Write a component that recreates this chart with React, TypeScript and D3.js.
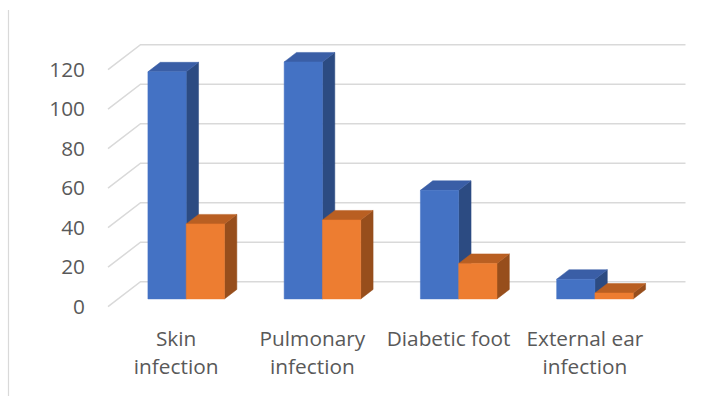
import React from "react";
import * as d3 from "d3";

const categories = [["Skin", "infection"], ["Pulmonary", "infection"], ["Diabetic foot"], ["External ear", "infection"]];
const categoryKeys = ["Skin infection", "Pulmonary infection", "Diabetic foot", "External ear infection"];
const seriesNames = ["Series 1", "Series 2"];
const series1 = [115, 120, 55, 10];
const series2 = [38, 40, 18, 3];
const yTicks = [0, 20, 40, 60, 80, 100, 120];

const W = 728;
const H = 396;
const Y0 = 306.7;
const DX = 32.5;
const DY = 25;
const Z0 = 0.31;
const Z1 = 0.69;

const colors = [
  { front: "#4472C4", top: "#3A5EA6", side: "#2C4B82" },
  { front: "#ED7D31", top: "#B95F22", side: "#974E1C" },
];

export default function App() {
  const yScale = d3.scaleLinear().domain([0, 120]).range([0, 237]);
  const x = d3.scaleBand<string>().domain(categoryKeys).range([108, 653]).paddingInner(0.438).paddingOuter(0.219);
  const xFull = d3.scaleBand<string>().domain(categoryKeys).range([108, 653]).padding(0);
  const xs = d3.scaleBand<string>().domain(seriesNames).range([0, x.bandwidth()]).padding(0);
  const P = (px: number, v: number, z: number) => [px + DX * z, Y0 - yScale(v) - DY * z];
  const pts = (arr: number[][]) => arr.map((p) => p.join(",")).join(" ");
  const data = [series1, series2];
  const textStyle = { fontFamily: "'Open Sans', sans-serif", fontSize: 20.8, fill: "#595959" } as const;

  return (
    <svg width={W} height={H} style={{ position: "absolute", left: 0, top: 0 }}>
      <rect width={W} height={H} fill="#fff" />
      <line x1={8.5} y1={10} x2={8.5} y2={396} stroke="#d9d9d9" strokeWidth={1.2} />
      {yTicks.map((t) => {
        const f = P(108, t, 0);
        const b = P(108, t, 1);
        const e = P(653, t, 1);
        return (
          <g key={t}>
            <polyline points={pts([f, b, e])} fill="none" stroke="#d9d9d9" strokeWidth={1.5} />
            <text x={85} y={f[1]} dy="0.35em" textAnchor="end" style={textStyle}>
              {t}
            </text>
          </g>
        );
      })}
      {categoryKeys.map((c, ci) => (
        <g key={c}>
          {seriesNames.map((s, si) => {
            const v = data[si][ci];
            const xl = (x(c) as number) + (xs(s) as number);
            const xr = xl + xs.bandwidth();
            const col = colors[si];
            const front = [P(xl, 0, Z0), P(xr, 0, Z0), P(xr, v, Z0), P(xl, v, Z0)];
            const top = [P(xl, v, Z0), P(xr, v, Z0), P(xr, v, Z1), P(xl, v, Z1)];
            const side = [P(xr, 0, Z0), P(xr, 0, Z1), P(xr, v, Z1), P(xr, v, Z0)];
            return (
              <g key={s}>
                <polygon points={pts(side)} fill={col.side} stroke={col.side} strokeWidth={0.5} />
                <polygon points={pts(top)} fill={col.top} stroke={col.top} strokeWidth={0.5} />
                <polygon points={pts(front)} fill={col.front} stroke={col.front} strokeWidth={0.5} />
              </g>
            );
          })}
          {categories[ci].map((line, li) => (
            <text
              key={li}
              x={(xFull(c) as number) + xFull.bandwidth() / 2}
              y={346 + li * 27.5}
              textAnchor="middle"
              style={textStyle}
            >
              {line}
            </text>
          ))}
        </g>
      ))}
    </svg>
  );
}
